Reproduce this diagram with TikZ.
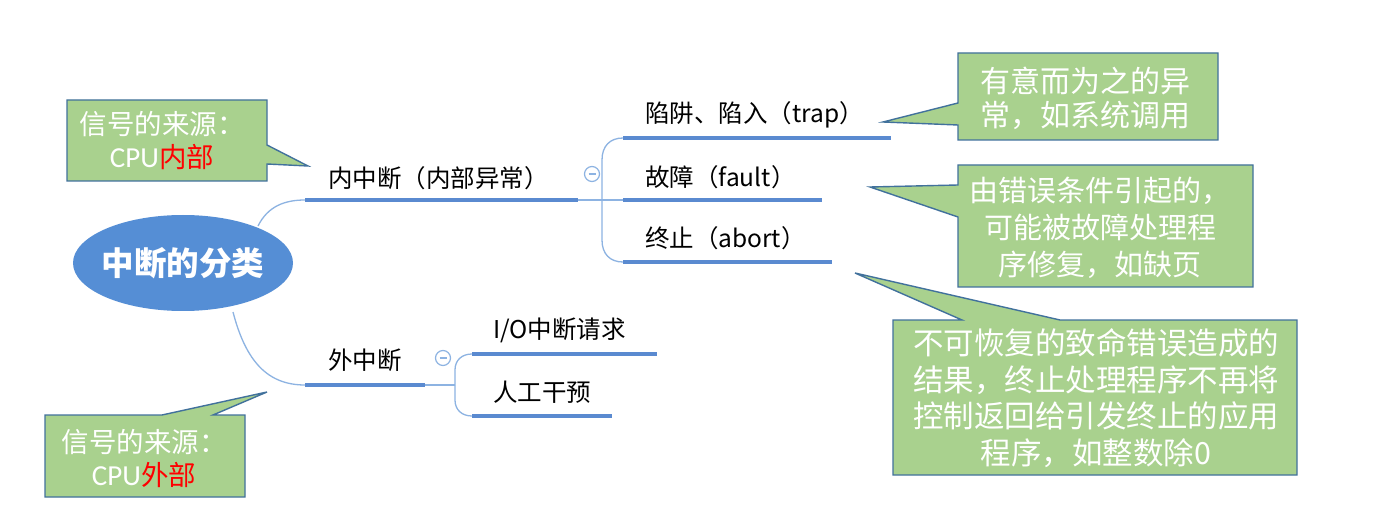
\documentclass[tikz,border=0pt]{standalone}
\usepackage{fontspec}
\usetikzlibrary{shapes.geometric}
\setmainfont{Noto Sans CJK SC}
\newfontfamily\latinf{Carlito}
\definecolor{callgreen}{HTML}{A9D18E}
\definecolor{callblue}{HTML}{41719C}
\definecolor{ellblue}{HTML}{558ED5}
\definecolor{lineblue}{HTML}{5A8AD0}
\definecolor{thinblue}{HTML}{8DB3E2}
\tikzset{
  callout/.style={fill=callgreen, draw=callblue, line width=1.4pt, line join=miter},
  calltext/.style={text=white, align=center, inner sep=0pt},
  branchtext/.style={text=black, anchor=west, inner sep=0pt, font=\fontsize{24.5}{28}\selectfont},
  underline/.style={draw=lineblue, line width=4pt},
  thin/.style={draw=thinblue, line width=1.3pt},
  toggle/.style={circle, draw=thinblue, line width=1.2pt, minimum size=15pt, inner sep=0pt}
}
\begin{document}
\begin{tikzpicture}[x=1pt,y=-1pt]
\useasboundingbox (0,0) rectangle (1392,529);
\fill[white] (0,0) rectangle (1392,529);

% root
\node[ellipse, fill=ellblue, minimum width=220pt, minimum height=96pt, inner sep=0pt] (root) at (183,263) {};
\node[text=white, inner sep=0pt, font=\fontsize{32.5}{36}\selectfont\bfseries] (roottxt) at (root.center) {中断的分类};

% coordinates for underlines
\coordinate (inA) at (305,200); \coordinate (inB) at (578,200);
\coordinate (exA) at (305,385); \coordinate (exB) at (425,385);
\coordinate (inJ) at (602,200); \coordinate (exJ) at (455,385);
\coordinate (trA) at (623,138); \coordinate (trB) at (891,138);
\coordinate (faA) at (623,200); \coordinate (faB) at (822,200);
\coordinate (abA) at (623,262); \coordinate (abB) at (832,262);
\coordinate (ioA) at (472,354); \coordinate (ioB) at (657,354);
\coordinate (rgA) at (472,416); \coordinate (rgB) at (612,416);
\coordinate (rtop) at (258,226); \coordinate (rbot) at (233,312);

% connectors from root
\draw[thin] (rtop) .. controls (268,206) and (285,200) .. (inA);
\draw[thin] (rbot) .. controls (246,362) and (268,385) .. (exA);

% inner branch
\draw[thin] (inB) -- (inJ) -- (faA);
\draw[thin] (inJ) -- (602,160) .. controls (602,146) and (610,138) .. (trA);
\draw[thin] (inJ) -- (602,240) .. controls (602,254) and (610,262) .. (abA);
% outer branch
\draw[thin] (exB) -- (exJ);
\draw[thin] (exJ) -- (455,370) .. controls (455,360) and (462,354) .. (ioA);
\draw[thin] (exJ) -- (455,400) .. controls (455,410) and (462,416) .. (rgA);

% underlines
\draw[underline] (inA) -- (inB);
\draw[underline] (exA) -- (exB);
\draw[underline] (trA) -- (trB);
\draw[underline] (faA) -- (faB);
\draw[underline] (abA) -- (abB);
\draw[underline] (ioA) -- (ioB);
\draw[underline] (rgA) -- (rgB);

% toggles
\node[toggle] (tg1) at (592,174) {};
\draw[thinblue, line width=1.2pt] ([xshift=-3.5pt]tg1.center) -- ([xshift=3.5pt]tg1.center);
\node[toggle] (tg2) at (443,358) {};
\draw[thinblue, line width=1.2pt] ([xshift=-3.5pt]tg2.center) -- ([xshift=3.5pt]tg2.center);

% branch labels
\node[branchtext] (lin) at (328,178) {内中断（内部异常）};
\node[branchtext] (lex) at (328,360) {外中断};
\node[branchtext] (ltr) at (645,115) {陷阱、陷入（trap）};
\node[branchtext] (lfa) at (645,177) {故障（fault）};
\node[branchtext] (lab) at (645,238) {终止（abort）};
\node[branchtext] (lio) at (493,330) {I/O中断请求};
\node[branchtext] (lrg) at (493,392) {人工干预};

% callouts
\path[callout] (67,100) -- (267,100) -- (267,145) -- (308,166) -- (267,164) -- (267,181) -- (67,181) -- cycle;
\node[calltext, font=\fontsize{27.5}{33}\selectfont] (c1) at (162,141)
  {信号的来源：\\{\latinf\fontsize{29}{33}\selectfont CPU}\textcolor{red}{内部}};

\path[callout] (45,415) -- (162,415) -- (267,392) -- (213,415) -- (245,415) -- (245,497) -- (45,497) -- cycle;
\node[calltext, font=\fontsize{27.5}{33}\selectfont] (c2) at (144,458)
  {信号的来源：\\{\latinf\fontsize{29}{33}\selectfont CPU}\textcolor{red}{外部}};

\path[callout] (958,53) -- (1218,53) -- (1218,140) -- (958,140) -- (958,125) -- (883,122) -- (958,103) -- cycle;
\node[calltext, font=\fontsize{30}{34}\selectfont] (c3) at (1085,98)
  {有意而为之的异\\常，如系统调用};

\path[callout] (958,165) -- (1253,165) -- (1253,287) -- (958,287) -- (958,217) -- (870,187) -- (958,185) -- cycle;
\node[calltext, font=\fontsize{29}{37}\selectfont] (c4) at (1100,228)
  {由错误条件引起的，\\可能被故障处理程\\序修复，如缺页};

\path[callout] (893,320) -- (962,320) -- (855,273) -- (1060,320) -- (1297,320) -- (1297,475) -- (893,475) -- cycle;
\node[calltext, font=\fontsize{30.5}{36.5}\selectfont] (c5) at (1096,398)
  {不可恢复的致命错误造成的\\结果，终止处理程序不再将\\控制返回给引发终止的应用\\程序，如整数除0};
\end{tikzpicture}
\end{document}
